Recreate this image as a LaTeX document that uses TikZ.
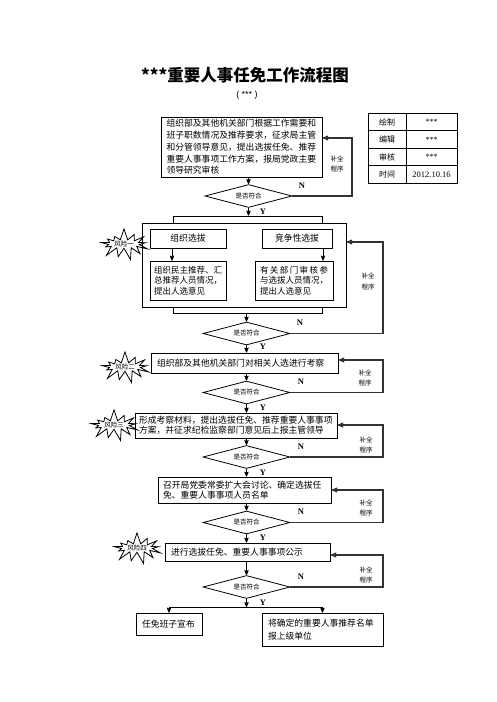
\documentclass[tikz,border=0pt]{standalone}
\usepackage{fontspec}
\setmainfont{Liberation Serif}
\setsansfont{Liberation Sans}
\newfontfamily\cjk{Noto Sans CJK SC}
\usetikzlibrary{arrows,shapes.geometric,shapes.symbols}

\begin{document}
\begin{tikzpicture}[x=1pt,y=-1pt,>=stealth',thick,
                main node/.style={draw,rectangle,inner sep=0pt,font=\cjk\fontsize{8.8}{11.8}\selectfont},
                ask node/.style={draw,diamond,aspect=4,inner sep=0pt,minimum width=87pt,minimum height=23pt,font=\cjk\fontsize{6.5}{7}\selectfont},
                risk node/.style={draw,starburst,starburst points=13,starburst point height=12pt,random starburst=7,inner sep=0pt,minimum width=55pt,minimum height=32pt,font=\cjk\fontsize{6.5}{7}\selectfont},
                note node/.style={align=center,font=\cjk\fontsize{6.5}{10.5}\selectfont},
                yn node/.style={inner sep=0pt,font=\bfseries\fontsize{8.5}{8.5}\selectfont},
                cell node/.style={draw,inner sep=0pt,minimum height=17.5pt,font=\cjk\fontsize{8}{8}\selectfont},
                back line/.style={->,line width=1.1pt,black!80}]
                \useasboundingbox (0,0) rectangle (496,702);
                \node[font=\cjk\bfseries\fontsize{16.5}{18}\selectfont] (title) at (245,75) {***重要人事任免工作流程图};
                \node[font=\sffamily\fontsize{9}{9}\selectfont] (sub) at (247,95) {( *** )};

                \node[cell node,minimum width=38pt] (t1) at (387,122) {绘制};
                \node[cell node,minimum width=51pt] (t2) at (431.5,122) {\rmfamily ***};
                \node[cell node,minimum width=38pt] (t3) at (387,139.5) {编辑};
                \node[cell node,minimum width=51pt] (t4) at (431.5,139.5) {\rmfamily ***};
                \node[cell node,minimum width=38pt] (t5) at (387,157) {审核};
                \node[cell node,minimum width=51pt] (t6) at (431.5,157) {\rmfamily ***};
                \node[cell node,minimum width=38pt] (t7) at (387,174.5) {时间};
                \node[cell node,minimum width=51pt] (t8) at (431.5,174.5) {\rmfamily\fontsize{8.5}{8.5}\selectfont 2012.10.16};

                \node[main node,text width=150pt,inner xsep=5.5pt,minimum height=60pt,align=left] (0) at (241.5,147)
                    {组织部及其他机关部门根据工作需要和\\班子职数情况及推荐要求，征求局主管\\和分管领导意见，提出选拔任免、推荐\\重要人事事项工作方案，报局党政主要\\领导研究审核};
                \node[ask node] (q1) at (248.5,196) {是否符合};

                \node[draw,inner sep=0pt,minimum width=149pt,minimum height=97pt] (1) at (247.5,264.5) {};
                \node[draw,fill=white,inner sep=0pt,minimum width=204pt,minimum height=84pt] (2) at (244,265) {};
                \node[main node,minimum width=76pt,minimum height=19pt] (3) at (188,238.5) {组织选拔};
                \node[main node,minimum width=70pt,minimum height=19pt] (4) at (297,238.5) {竞争性选拔};
                \node[main node,font=\cjk\fontsize{8.5}{10.5}\selectfont,text width=68pt,inner xsep=4pt,minimum height=39pt,align=left] (5) at (188,280.5)
                    {组织民主推荐、汇\\总推荐人员情况，\\提出人选意见};
                \node[main node,font=\cjk\fontsize{8.5}{10.5}\selectfont,text width=68pt,inner xsep=5pt,minimum height=39pt,align=left] (6) at (294,280.5)
                    {\hbox to 68pt{有\hfil 关\hfil 部\hfil 门\hfil 审\hfil 核\hfil 参}\\与选拔人员情况，\\提出人选意见};
                \node[ask node] (q2) at (246.5,333.5) {是否符合};

                \node[main node,text width=175pt,inner xsep=6pt,minimum height=20pt,align=left] (7) at (244.5,363)
                    {组织部及其他机关部门对相关人选进行考察};
                \node[ask node] (q3) at (246.5,392.5) {是否符合};

                \node[main node,font=\cjk\fontsize{8.8}{10}\selectfont,text width=194pt,inner xsep=4pt,minimum height=25pt,align=left] (8) at (236,425.5)
                    {形成考察材料，提出选拔任免、推荐重要人事事项\\方案，并征求纪检监察部门意见后上报主管领导};
                \node[ask node] (q4) at (246.5,457) {是否符合};

                \node[main node,font=\cjk\fontsize{8.8}{10.5}\selectfont,text width=163pt,inner xsep=5pt,minimum height=26pt,align=left] (9) at (244.5,490)
                    {召开局党委常委扩大会讨论、确定选拔任\\免、重要人事事项人员名单};
                \node[ask node] (q5) at (246.5,522.5) {是否符合};

                \node[main node,text width=153pt,inner xsep=6pt,minimum height=18pt,align=left] (10) at (247.5,552)
                    {进行选拔任免、重要人事事项公示};
                \node[ask node] (q6) at (246.5,587) {是否符合};

                \node[main node,text width=54pt,inner xsep=6pt,minimum height=22pt,align=left] (11) at (169,624) {任免班子宣布};
                \node[main node,font=\cjk\fontsize{8.8}{13}\selectfont,text width=109pt,inner xsep=6pt,minimum height=33pt,align=left] (12) at (322.5,629.5)
                    {将确定的重要人事推荐名单\\报上级单位};

                \coordinate (r1) at (352,138);
                \coordinate (r2) at (383,242);
                \coordinate (r3) at (383,360);
                \coordinate (r4) at (383,425);
                \coordinate (r5) at (383,490);
                \coordinate (r6) at (383,555);
                \coordinate (s) at (246.5,607);

                \draw[->] (0.south -| q1) -- (q1);
                \draw[->] (q1.south) -- (q1.south |- 1.north);
                \draw[->] ([xshift=-16pt]3.south) -- ([xshift=-16pt]3.south |- 5.north);
                \draw[->] ([xshift=26pt]4.south) -- ([xshift=26pt]4.south |- 6.north);
                \draw[->] (1.south -| q2) -- (q2);
                \draw[->] (q2.south) -- (q2.south |- 7.north);
                \draw[->] (7.south -| q3) -- (q3);
                \draw[->] (q3.south) -- (q3.south |- 8.north);
                \draw[->] (8.south -| q4) -- (q4);
                \draw[->] (q4.south) -- (q4.south |- 9.north);
                \draw[->] (9.south -| q5) -- (q5);
                \draw[->] (q5.south) -- (q5.south |- 10.north);
                \draw[->] (10.south -| q6) -- (q6);
                \draw[->] (q6.south) -- (s);
                \draw[->] (s) -| (11);
                \draw[->] (s) -| (12);

                \draw[back line] (q1.east) -| (r1) -- (r1 -| 0.east);
                \draw[back line] (q2.east) -| (r2) -- (r2 -| 2.east);
                \draw[back line] (q3.east) -| (r3) -- (r3 -| 7.east);
                \draw[back line] (q4.east) -| (r4) -- (r4 -| 8.east);
                \draw[back line] (q5.east) -| (r5) -- (r5 -| 9.east);
                \draw[back line] (q6.east) -| (r6) -- (r6 -| 10.east);

                \node[note node] (p1) at (337,164) {补全\\程序};
                \node[note node] (p2) at (368,281.5) {补全\\程序};
                \node[note node] (p3) at (365,378) {补全\\程序};
                \node[note node] (p4) at (366,445) {补全\\程序};
                \node[note node] (p5) at (366,508) {补全\\程序};
                \node[note node] (p6) at (366,575) {补全\\程序};

                \node[yn node] (n1) at (302,186) {N};
                \node[yn node] (n2) at (300,323) {N};
                \node[yn node] (n3) at (301,382) {N};
                \node[yn node] (n4) at (301,447) {N};
                \node[yn node] (n5) at (301,512) {N};
                \node[yn node] (n6) at (301,577) {N};
                \node[yn node] (y1) at (263,212) {Y};
                \node[yn node] (y2) at (263,347) {Y};
                \node[yn node] (y3) at (263,408) {Y};
                \node[yn node] (y4) at (263,473) {Y};
                \node[yn node] (y5) at (263,538) {Y};
                \node[yn node] (y6) at (263,603) {Y};

                \node[risk node] (w1) at (124,244) {风险一};
                \node[risk node] (w2) at (125,367) {风险二};
                \node[risk node] (w3) at (114,425) {风险三};
                \node[risk node] (w4) at (137,548) {风险四};
\end{tikzpicture}
\end{document}
